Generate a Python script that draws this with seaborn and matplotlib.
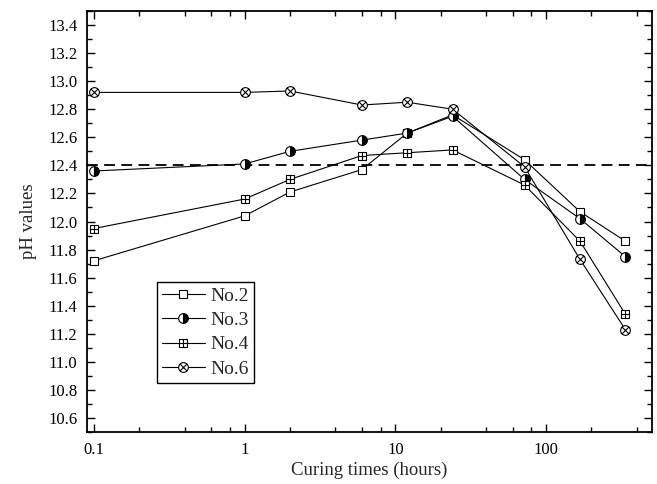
import numpy as np
import pandas as pd
import matplotlib
matplotlib.use("Agg")
import matplotlib.pyplot as plt
from matplotlib.path import Path
from matplotlib.ticker import FixedLocator, FixedFormatter, LogLocator, NullFormatter, MultipleLocator
from matplotlib.lines import Line2D
import seaborn as sns

# ---- data ----
times = [0.1, 1, 2, 6, 12, 24, 72, 168, 336]
no2 = [11.72, 12.04, 12.21, 12.37, 12.63, 12.76, 12.44, 12.07, 11.86]
no3 = [12.36, 12.41, 12.50, 12.58, 12.63, 12.75, 12.30, 12.02, 11.75]
no4 = [11.95, 12.16, 12.30, 12.47, 12.49, 12.51, 12.26, 11.86, 11.34]
no6 = [12.92, 12.92, 12.93, 12.83, 12.85, 12.80, 12.39, 11.73, 11.23]
series_names = ["No.2", "No.3", "No.4", "No.6"]
threshold = 12.40
xtick_vals = [0.1, 1, 10, 100]
xtick_labels = ["0.1", "1", "10", "100"]

sns.set_style("ticks")
plt.rcParams["font.family"] = ["Liberation Serif", "DejaVu Serif"]

# custom markers
sq = [(-1, -1), (1, -1), (1, 1), (-1, 1), (-1, -1)]
sq_codes = [Path.MOVETO] + [Path.LINETO] * 3 + [Path.CLOSEPOLY]
plus_verts = sq + [(0, -1), (0, 1), (-1, 0), (1, 0)]
plus_codes = sq_codes + [Path.MOVETO, Path.LINETO, Path.MOVETO, Path.LINETO]
sq_plus = Path(plus_verts, plus_codes)
circ = Path.unit_circle()
d = 0.7071
xlines = Path([(-d, -d), (d, d), (-d, d), (d, -d)],
              [Path.MOVETO, Path.LINETO, Path.MOVETO, Path.LINETO])
circ_x = Path.make_compound_path(circ, xlines)

styles = {
    "No.2": dict(marker="s", markersize=5.8, markerfacecolor="white"),
    "No.3": dict(marker="o", markersize=7, fillstyle="right",
                 markerfacecolor="black", markerfacecoloralt="white"),
    "No.4": dict(marker=sq_plus, markersize=5.8, markerfacecolor="white"),
    "No.6": dict(marker=circ_x, markersize=7, markerfacecolor="white"),
}

fig, ax = plt.subplots(figsize=(6.57, 4.84), dpi=100)
fig.subplots_adjust(left=0.1324, right=0.9924, top=0.9773, bottom=0.1074)

ax.axhline(threshold, color="black", lw=1.3, linestyle=(0, (6, 3.5)), zorder=1)

handles = []
for name, vals in zip(series_names, [no2, no3, no4, no6]):
    df = pd.DataFrame({"t": times, "pH": vals})
    st = styles[name]
    sns.lineplot(data=df, x="t", y="pH", ax=ax, color="black", lw=0.8,
                 markeredgecolor="black", markeredgewidth=0.8,
                 zorder=3, legend=False, **st)
    handles.append(Line2D([], [], color="black", lw=0.8,
                          markeredgecolor="black", markeredgewidth=0.8, **st))

ax.set_xscale("log")
ax.set_xlim(0.09, 505)
ax.set_ylim(10.5, 13.5)

ax.xaxis.set_major_locator(FixedLocator(xtick_vals))
ax.xaxis.set_major_formatter(FixedFormatter(xtick_labels))
ax.xaxis.set_minor_locator(LogLocator(base=10, subs=[2, 4, 6, 8]))
ax.xaxis.set_minor_formatter(NullFormatter())
ax.set_yticks(np.round(np.arange(10.6, 13.41, 0.2), 1))
ax.yaxis.set_minor_locator(MultipleLocator(0.1))
ax.yaxis.set_major_formatter(matplotlib.ticker.FormatStrFormatter("%.1f"))

ax.tick_params(which="both", direction="in", top=True, right=True,
               labelsize=12, width=1.0, colors="black")
ax.tick_params(which="major", length=6, pad=7)
ax.tick_params(which="minor", length=3.5)
for s in ax.spines.values():
    s.set_linewidth(1.3)
    s.set_color("black")

ax.set_xlabel("Curing times (hours)", fontsize=13.5, labelpad=3)
ax.set_ylabel("pH values", fontsize=13.5, labelpad=8)

leg = ax.legend(handles, series_names, loc="upper left",
                bbox_to_anchor=(0.124, 0.356), borderaxespad=0,
                fancybox=False, edgecolor="black", fontsize=14,
                handlelength=2.2, handletextpad=0.3, labelspacing=0.35,
                borderpad=0.25, framealpha=1)
leg.get_frame().set_linewidth(1.0)

fig.savefig("out.png", dpi=100)
